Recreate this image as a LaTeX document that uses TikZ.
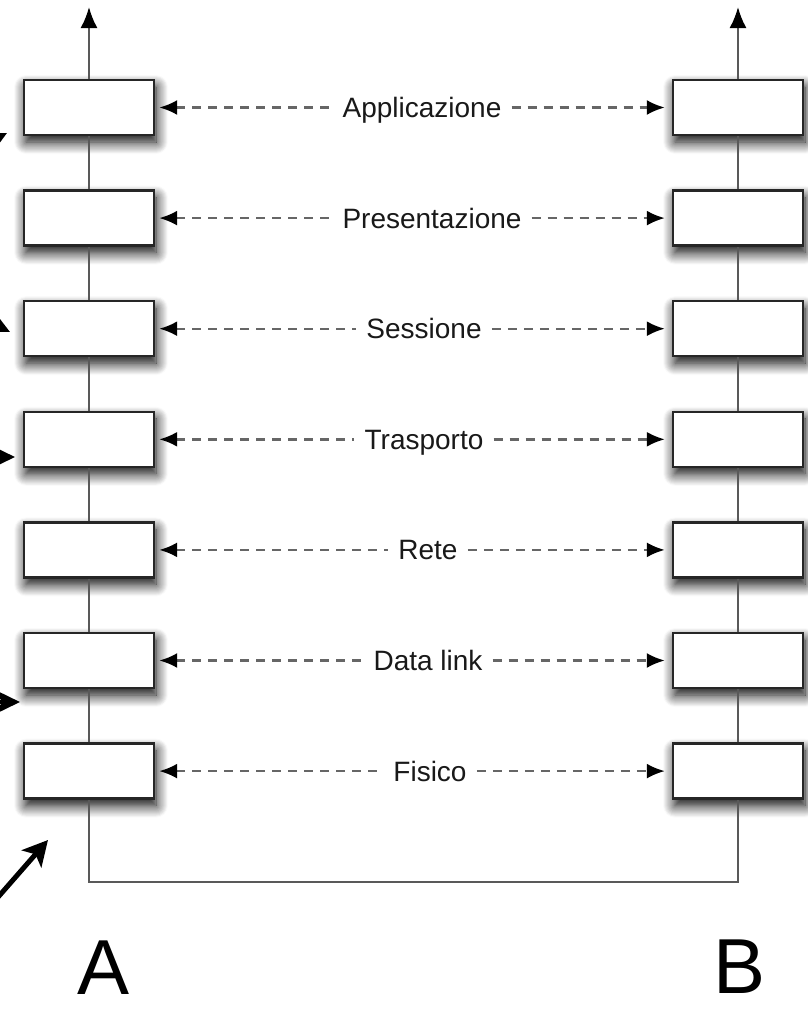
\documentclass[tikz,border=0pt]{standalone}
\usepackage{fontspec}
\setmainfont{Liberation Sans}
\usetikzlibrary{arrows.meta,shadows.blur}
\begin{document}
\begin{tikzpicture}[x=1pt,y=-1pt,
  layerbox/.style={draw=black!85,line width=2.4pt,fill=white,minimum width=130pt,minimum height=55pt,inner sep=0pt,
    blur shadow={shadow xshift=2pt,shadow yshift=-7pt,shadow blur radius=12pt,shadow opacity=100,shadow blur steps=12}},
  conn/.style={draw=black!65,line width=2.2pt},
  dsh/.style={draw=black!60,line width=2.4pt,dash pattern=on 9pt off 7pt},
  tipL/.style={{Latex[length=18pt,width=15pt,fill=black,color=black]}-},
  tipR/.style={-{Latex[length=18pt,width=15pt,fill=black,color=black]}},
  lab/.style={font=\fontsize{28}{30}\selectfont,fill=white,inner xsep=10pt,inner ysep=0pt,text height=20pt,text depth=0pt,text=black!90},
  big/.style={font=\fontsize{78}{80}\selectfont,anchor=base,inner sep=0pt},
  frag/.style={draw=black,line width=4.5pt,-{Stealth[length=22pt,width=21pt,inset=5pt]}}
]
\useasboundingbox (0,0) rectangle (808,1010);
\clip (0,0) rectangle (808,1010);

% layer boxes
\foreach \i/\y in {1/107.5,2/218.1,3/328.7,4/439.3,5/549.9,6/660.5,7/771.1}{
  \node[layerbox] (L\i) at (89,\y) {};
  \node[layerbox] (R\i) at (738,\y) {};
}

% labels
\node[lab] (lab1) at (422,107.5) {Applicazione};
\node[lab] (lab2) at (432,218.1) {Presentazione};
\node[lab] (lab3) at (424,328.7) {Sessione};
\node[lab] (lab4) at (424,439.3) {Trasporto};
\node[lab] (lab5) at (428,549.9) {Rete};
\node[lab] (lab6) at (428,660.5) {Data link};
\node[lab] (lab7) at (430,771.1) {Fisico};

% dashed peer arrows
\foreach \i in {1,...,7}{
  \draw[dsh,tipL,shorten <=4pt] (L\i.east) -- (lab\i.west);
  \draw[dsh,tipR,shorten >=7pt] (lab\i.east) -- (R\i.west);
}

% vertical stacks
\foreach \i/\j in {1/2,2/3,3/4,4/5,5/6,6/7}{
  \draw[conn] (L\i.south) -- (L\j.north);
  \draw[conn] (R\i.south) -- (R\j.north);
}
\coordinate (topA) at (89,7);
\coordinate (topB) at (738,7);
\draw[conn,-{Latex[length=21pt,width=17pt,fill=black,color=black]}] (L1.north) -- (topA);
\draw[conn,-{Latex[length=21pt,width=17pt,fill=black,color=black]}] (R1.north) -- (topB);

% physical medium
\coordinate (bl) at (89,882);
\coordinate (br) at (738,882);
\draw[conn] (L7.south) -- (bl) -- (br) -- (R7.south);

% host labels
\node[big] (hA) at (104,994) {A};
\node[big] (hB) at (740,993) {B};

% arrow fragments entering from the left edge
\coordinate (f1s) at (-33,154);
\coordinate (f1e) at (7,133);
\coordinate (f2s) at (-30,312);
\coordinate (f2e) at (10,332);
\coordinate (f3s) at (-40,457);
\coordinate (f3e) at (15,457);
\coordinate (f4s) at (-40,702);
\coordinate (f4e) at (20,702);
\coordinate (f5s) at (-15,912);
\coordinate (f5e) at (48,840);
\draw[frag] (f1s) -- (f1e);
\draw[frag] (f2s) -- (f2e);
\draw[frag] (f3s) -- (f3e);
\draw[frag,-{Stealth[length=24pt,width=23pt,inset=6pt]}] (f4s) -- (f4e);
\draw[frag,line width=5pt,-{Stealth[length=25pt,width=26pt,inset=6pt]}] (f5s) -- (f5e);
\end{tikzpicture}
\end{document}
